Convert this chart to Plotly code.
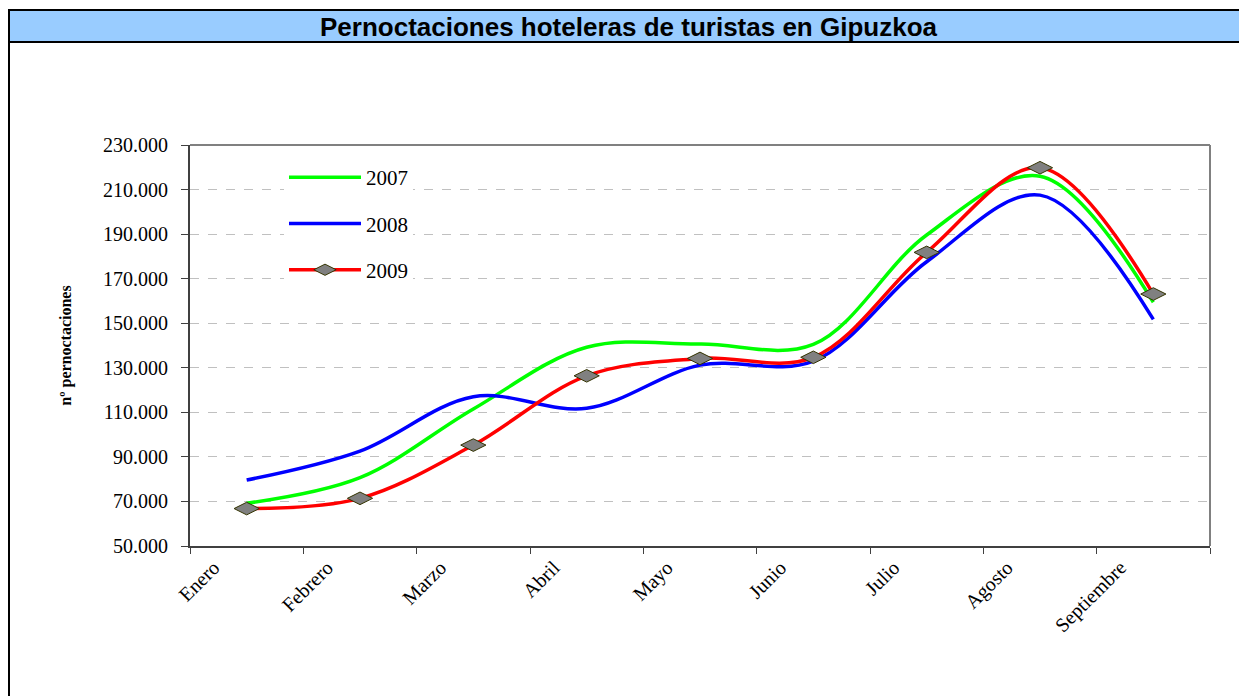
import plotly.graph_objects as go

meses = ["Enero", "Febrero", "Marzo", "Abril", "Mayo", "Junio", "Julio", "Agosto", "Septiembre"]
v2007 = [69200, 80700, 111500, 139200, 140700, 140500, 189600, 216000, 159400]
v2008 = [79600, 92600, 117000, 111800, 131200, 133000, 177600, 207500, 151700]
v2009 = [66800, 71400, 95300, 126400, 134200, 134700, 181800, 219800, 163100]
y_ticks = [50000, 70000, 90000, 110000, 130000, 150000, 170000, 190000, 210000, 230000]

OFF = 8  # page body margin
W, H = 1247 - OFF, 696 - OFF
# target pixel positions on the page
L, R, T, B = 190, 1210, 145, 546

def px(x):
    return (x - L) / (R - L)

def py(y):
    return (B - y) / (B - T)

xs = list(range(len(meses)))

fig = go.Figure()
fig.add_trace(go.Scatter(x=xs, y=v2007, name="2007", mode="lines", legendgroup="a",
                         line=dict(color="#00FF00", width=3.5, shape="spline", smoothing=1)))
fig.add_trace(go.Scatter(x=xs, y=v2008, name="2008", mode="lines", legendgroup="b",
                         line=dict(color="#0000FF", width=3.5, shape="spline", smoothing=1)))
fig.add_trace(go.Scatter(x=xs, y=v2009, name="2009", mode="lines+markers", legendgroup="c",
                         line=dict(color="#FF0000", width=3.5, shape="spline", smoothing=1),
                         marker=dict(symbol="diamond-wide", size=18, color="#808080",
                                     line=dict(color="#333300", width=1))))

serif = "Liberation Serif, Times New Roman, serif"

fig.update_layout(
    width=W, height=H,
    margin=dict(l=L - OFF, r=1247 - R, t=T - OFF, b=696 - B),
    paper_bgcolor="white", plot_bgcolor="white",
    separators=",.",
    showlegend=True,
    legend=dict(x=px(284), y=py(157), xanchor="left", yanchor="top",
                bgcolor="white", font=dict(family=serif, size=21, color="black"),
                tracegroupgap=16, itemwidth=72),
    xaxis=dict(range=[-0.5, len(meses) - 0.5], showgrid=False, zeroline=False,
               showline=True, linecolor="#404040", linewidth=2,
               tickmode="array", tickvals=[i - 0.29 for i in xs], ticktext=meses,
               ticks="", tickangle=-45,
               tickfont=dict(family=serif, size=20, color="black"),
               minor=dict(tickmode="array", tickvals=[i - 0.5 for i in range(len(meses) + 1)],
                          ticks="outside", ticklen=6, tickcolor="#404040", tickwidth=1,
                          showgrid=False)),
    yaxis=dict(range=[50000, 230000], tickmode="array", tickvals=y_ticks,
               tickformat=",.0f", showgrid=True, gridcolor="#C0C0C0", gridwidth=1,
               griddash="dash", zeroline=False,
               showline=True, linecolor="#404040", linewidth=2,
               ticks="outside", ticklen=7, tickcolor="#404040", ticklabelstandoff=9,
               tickfont=dict(family=serif, size=20, color="black"),
               title=dict(text="nº pernoctaciones", standoff=27,
                          font=dict(family=serif, size=16, color="black", weight="bold"))),
    shapes=[
        # title bar
        dict(type="rect", xref="paper", yref="paper", x0=px(9), x1=px(1246), y0=py(42), y1=py(10),
             fillcolor="#99CCFF", line=dict(color="black", width=2), layer="below"),
        # outer left border
        dict(type="line", xref="paper", yref="paper", x0=px(9), x1=px(9), y0=py(10), y1=py(700),
             line=dict(color="black", width=2)),
        # plot frame top and right
        dict(type="line", xref="paper", yref="paper", x0=0, x1=1, y0=1, y1=1,
             line=dict(color="#808080", width=2)),
        dict(type="line", xref="paper", yref="paper", x0=1, x1=1, y0=0, y1=1,
             line=dict(color="#808080", width=2)),
    ],
    annotations=[
        dict(text="<b>Pernoctaciones hoteleras de turistas en Gipuzkoa</b>",
             xref="paper", yref="paper", x=px(629), y=py(27), xanchor="center", yanchor="middle",
             showarrow=False, font=dict(family="Liberation Sans, Arial, sans-serif", size=26, color="black")),
    ],
)

fig.write_html("out.html")
